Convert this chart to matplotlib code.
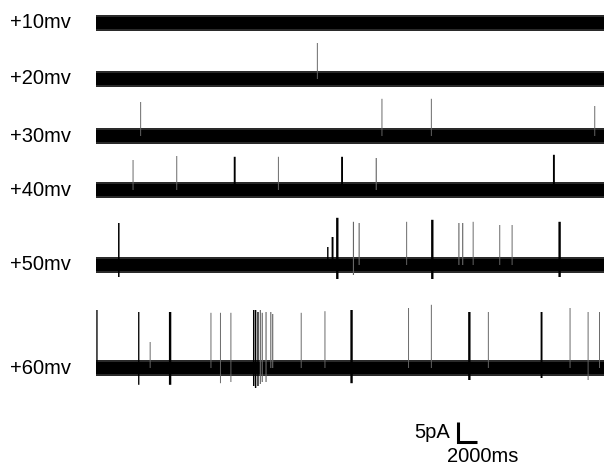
import matplotlib.pyplot as plt

# holding potentials and trace baselines (pA, stacked)
labels = ['+10mv', '+20mv', '+30mv', '+40mv', '+50mv', '+60mv']

# channel openings per trace: (time s, amplitude pA, duration s, downward dip pA)
ev10 = []
ev20 = [(23.3, 9.0, 0.1, 0)]
ev30 = [(4.7, 8.5, 0.1, 0), (30.1, 9.3, 0.1, 0), (35.3, 9.3, 0.1, 0),
        (52.5, 7.5, 0.1, 0)]
ev40 = [(3.9, 7.5, 0.1, 0), (8.5, 8.5, 0.1, 0), (14.6, 8.3, 0.2, 0),
        (19.2, 8.3, 0.1, 0), (25.9, 8.3, 0.2, 0), (29.5, 8.0, 0.12, 0),
        (48.2, 8.8, 0.2, 0)]
ev50 = [(2.4, 10.5, 0.16, 3.0), (24.4, 4.5, 0.15, 0), (24.9, 7.0, 0.2, 0),
        (25.4, 11.8, 0.25, 3.5), (27.1, 10.8, 0.12, 2.5), (27.7, 10.5, 0.12, 0),
        (32.7, 10.8, 0.1, 0), (35.4, 11.3, 0.25, 3.5), (38.2, 10.5, 0.12, 0),
        (38.6, 10.5, 0.12, 0), (39.7, 10.8, 0.1, 0), (42.5, 10.0, 0.1, 0),
        (43.8, 10.0, 0.1, 0), (48.8, 10.8, 0.25, 3.0)]
ev60 = [(0.1, 14.5, 0.14, 0), (4.5, 14.0, 0.14, 4.2), (5.7, 6.5, 0.1, 0),
        (7.8, 14.0, 0.25, 4.2), (12.1, 13.8, 0.1, 0), (13.1, 13.8, 0.1, 3.8),
        (14.2, 13.8, 0.1, 3.5), (16.6, 14.5, 0.15, 4.5), (16.8, 14.5, 0.15, 5.0),
        (17.05, 14.0, 0.14, 4.5), (17.3, 14.5, 0.12, 4.0), (17.5, 13.8, 0.12, 3.5),
        (17.9, 14.0, 0.12, 3.5), (18.4, 14.0, 0.12, 0), (18.6, 13.5, 0.12, 0),
        (21.6, 13.8, 0.1, 0), (24.1, 14.2, 0.1, 0), (26.9, 14.5, 0.25, 3.8),
        (32.9, 15.0, 0.1, 0), (35.3, 15.8, 0.1, 0), (39.3, 14.0, 0.25, 3.0),
        (41.3, 14.0, 0.1, 0), (46.9, 14.0, 0.2, 2.5), (49.9, 15.0, 0.1, 0),
        (51.8, 14.0, 0.1, 3.0), (53.0, 14.0, 0.1, 0)]
events = [ev10, ev20, ev30, ev40, ev50, ev60]

# layout: baseline of each trace in pA on the shared axis
offsets = [111.0, 97.0, 82.75, 69.25, 50.5, 24.75]
t_end = 54.0
noise = 2.1

fig = plt.figure(figsize=(6.04, 4.67), dpi=100)
ax = fig.add_axes([0, 0, 1, 1])
ax.set_xlim(-96 / 9.5, 508 / 9.5)
ax.set_ylim(0, 467 / 4)
ax.axis('off')

for lab, ev, off in zip(labels, events, offsets):
    # baseline noise band
    ax.fill_between([0, t_end], off - noise, off + noise, color='#2a2a2a', lw=0)
    ax.fill_between([0, t_end], off - noise * 0.75, off + noise * 0.75, color='black', lw=0)
    for t, amp, dur, dip in ev:
        col = 'black' if dur >= 0.14 else '#666666'
        ax.bar(t, amp + dip, width=dur, bottom=off - dip, color=col, lw=0,
               snap=False)
    ax.text(-9.05, off, lab, ha='left', va='center', fontsize=14.5,
            family='Liberation Sans')

# scale bar: 5 pA / 2000 ms
sx, sy = 38.1, 6.25
ax.plot([sx, sx, sx + 2.0], [sy + 5, sy, sy], color='black', lw=2.2,
        solid_capstyle='butt', solid_joinstyle='miter')
ax.text(sx - 0.8, sy + 2.5, '5pA', ha='right', va='center', fontsize=14.5,
        family='Liberation Sans')
ax.text(sx - 1.2, sy - 3.75, '2000ms', ha='left', va='center', fontsize=14.5,
        family='Liberation Sans')

fig.savefig('out.png', dpi=100)
